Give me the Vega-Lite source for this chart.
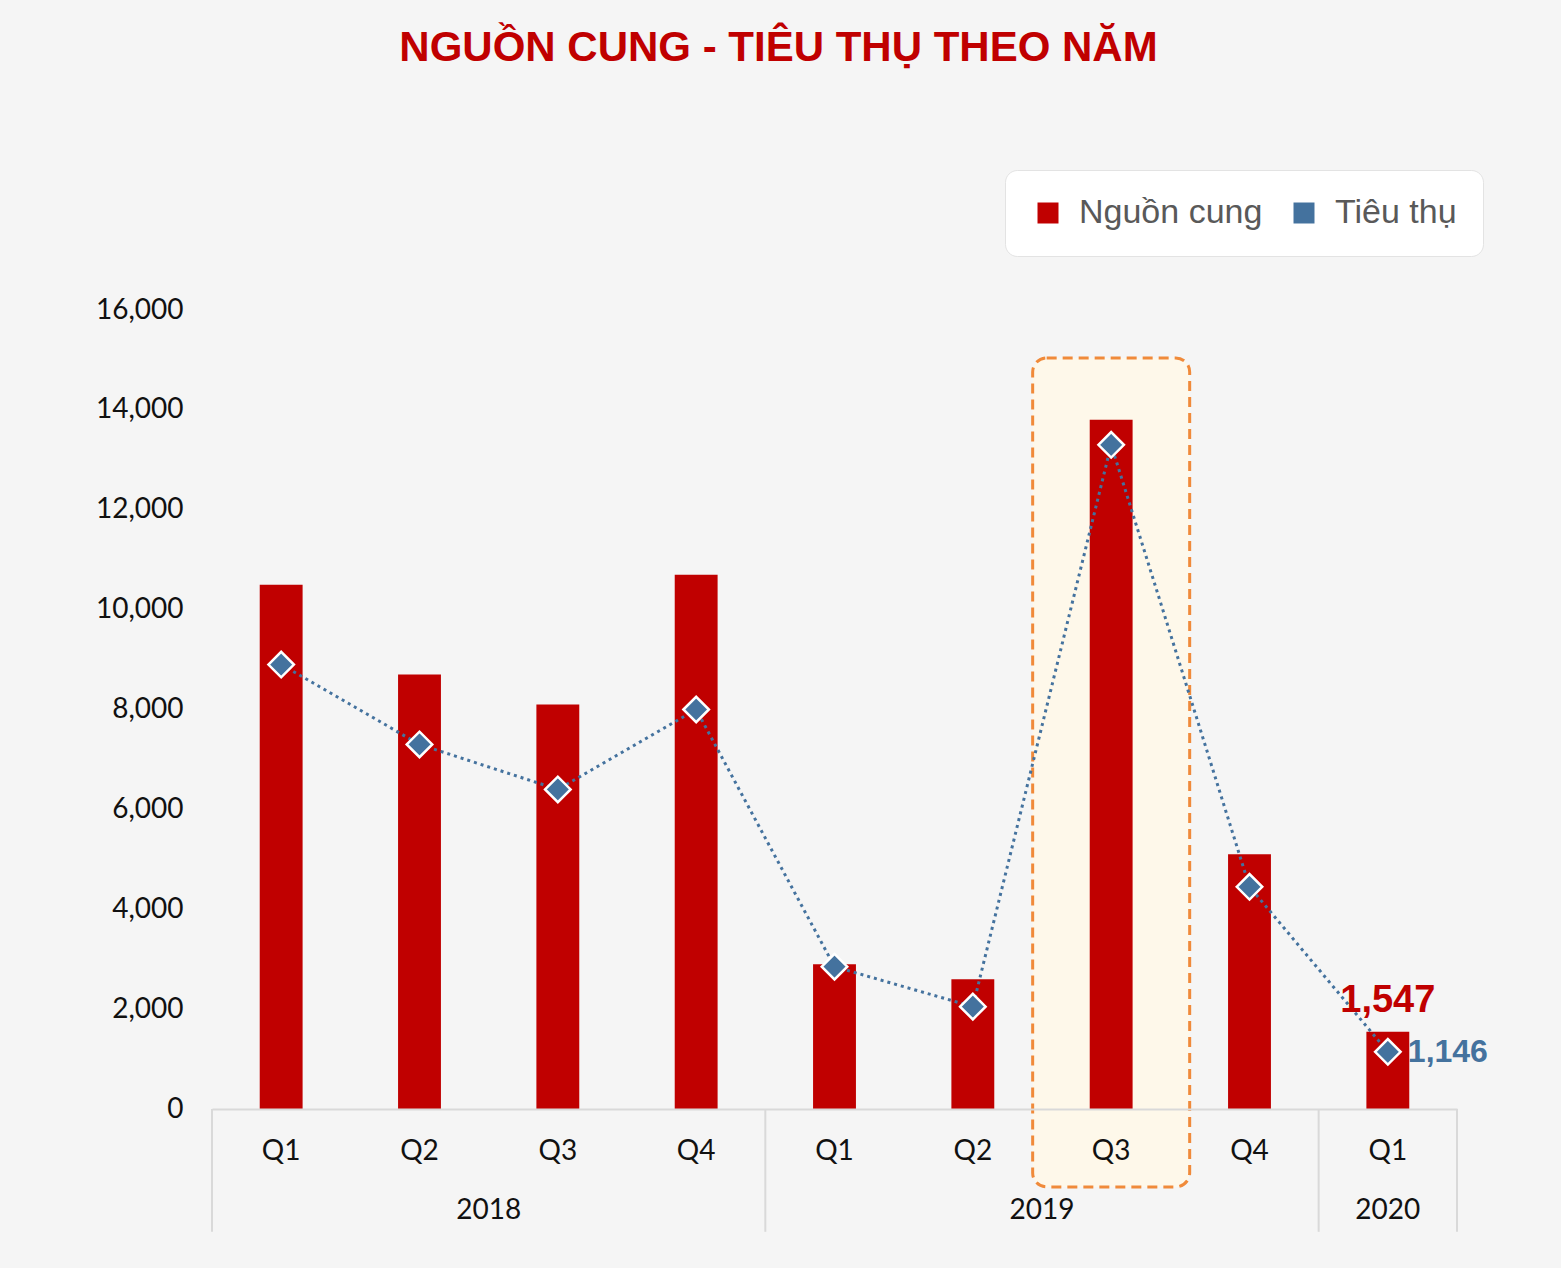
{
  "$schema": "https://vega.github.io/schema/vega-lite/v6.json",
  "autosize": {"type": "none"},
  "width": 1245,
  "height": 799,
  "padding": {"left": 212, "top": 310, "right": 104, "bottom": 159},
  "background": "#F5F5F5",
  "config": {"view": {"stroke": null}},
  "title": {
    "text": "NGUỒN CUNG - TIÊU THỤ THEO NĂM",
    "font": "'Liberation Sans Narrow', 'Liberation Sans'",
    "fontSize": 42,
    "fontWeight": "bold",
    "color": "#C00000",
    "anchor": "middle",
    "frame": "group",
    "dx": -56,
    "offset": 100
  },
  "datasets": {
    "main": [
      {"key": "2018-Q1", "supply": 10500, "demand": 8900},
      {"key": "2018-Q2", "supply": 8700, "demand": 7300},
      {"key": "2018-Q3", "supply": 8100, "demand": 6400},
      {"key": "2018-Q4", "supply": 10700, "demand": 8000},
      {"key": "2019-Q1", "supply": 2900, "demand": 2850},
      {"key": "2019-Q2", "supply": 2600, "demand": 2050},
      {"key": "2019-Q3", "supply": 13800, "demand": 13300},
      {"key": "2019-Q4", "supply": 5100, "demand": 4450},
      {"key": "2020-Q1", "supply": 1547, "demand": 1146}
    ]
  },
  "encoding": {
    "x": {
      "field": "key",
      "type": "nominal",
      "scale": {
        "domain": ["2018-Q1", "2018-Q2", "2018-Q3", "2018-Q4", "2019-Q1", "2019-Q2", "2019-Q3", "2019-Q4", "2020-Q1"],
        "paddingInner": 0,
        "paddingOuter": 0
      },
      "axis": {
        "title": null,
        "labelExpr": "substring(datum.label, 5)",
        "labelAngle": 0,
        "labelFont": "Lato",
        "labelFontSize": 28,
        "labelColor": "#111111",
        "labelPadding": 28,
        "ticks": false,
        "tickSize": 0,
        "domainColor": "#D9D9D9",
        "domainWidth": 2,
        "grid": false,
        "zindex": 1
      }
    }
  },
  "layer": [
    {
      "data": {"values": [{"key": "2019-Q3"}]},
      "mark": {
        "type": "rect",
        "width": {"band": 1.135},
        "fill": "#FEF8EA",
        "stroke": "#F08A3A",
        "strokeWidth": 3,
        "strokeDash": [10, 6],
        "cornerRadius": 14
      },
      "encoding": {
        "y": {"datum": 15040, "type": "quantitative"},
        "y2": {"datum": -1560}
      }
    },
    {
      "data": {"values": [{"key": "2018-Q1"}, {"key": "2019-Q1"}, {"key": "2020-Q1"}]},
      "mark": {"type": "rule", "color": "#D9D9D9", "strokeWidth": 2},
      "encoding": {
        "x": {"field": "key", "type": "nominal", "bandPosition": 0},
        "y": {"datum": 0, "type": "quantitative"},
        "y2": {"datum": -2460}
      }
    },
    {
      "data": {"values": [{"key": "2020-Q1"}]},
      "mark": {"type": "rule", "color": "#D9D9D9", "strokeWidth": 2},
      "encoding": {
        "x": {"field": "key", "type": "nominal", "bandPosition": 1},
        "y": {"datum": 0, "type": "quantitative"},
        "y2": {"datum": -2460}
      }
    },
    {
      "data": {"name": "main"},
      "mark": {"type": "bar", "width": {"band": 0.31}},
      "encoding": {
        "y": {
          "field": "supply",
          "type": "quantitative",
          "scale": {"domain": [0, 16000], "nice": false, "clamp": false},
          "axis": {
            "title": null,
            "values": [0, 2000, 4000, 6000, 8000, 10000, 12000, 14000, 16000],
            "format": ",d",
            "domain": false,
            "ticks": false,
            "tickSize": 0,
            "labelPadding": 29,
            "labelFont": "Lato",
            "labelFontSize": 28,
            "labelColor": "#111111",
            "gridColor": "#D9D9D9",
            "gridWidth": 2
          }
        },
        "color": {
          "datum": "Nguồn cung",
          "type": "nominal",
          "scale": {"domain": ["Nguồn cung", "Tiêu thụ"], "range": ["#C00000", "#44729E"]},
          "legend": {
            "title": null,
            "orient": "none",
            "legendX": 793,
            "legendY": -140,
            "direction": "horizontal",
            "fillColor": "#FFFFFF",
            "strokeColor": "#E3E3E3",
            "cornerRadius": 12,
            "padding": 26,
            "symbolType": "square",
            "symbolSize": 441,
            "symbolStrokeWidth": 0,
            "symbolOpacity": 1,
            "labelFont": "Liberation Sans",
            "labelFontSize": 34,
            "labelColor": "#595959",
            "labelOffset": 14,
            "labelLimit": 400,
            "columnPadding": 24
          }
        }
      }
    },
    {
      "data": {"name": "main"},
      "mark": {"type": "line", "color": "#44729E", "strokeWidth": 3, "strokeDash": [3, 4]},
      "encoding": {
        "y": {"field": "demand", "type": "quantitative"}
      }
    },
    {
      "data": {"name": "main"},
      "mark": {"type": "point", "shape": "diamond", "filled": true, "fill": "#44729E", "stroke": "#FFFFFF", "strokeWidth": 2.5, "size": 650, "opacity": 1},
      "encoding": {
        "y": {"field": "demand", "type": "quantitative"}
      }
    },
    {
      "data": {"name": "main"},
      "transform": [{"filter": "datum.key == '2020-Q1'"}],
      "mark": {"type": "text", "font": "Liberation Sans", "fontWeight": "bold", "fontSize": 38, "color": "#C00000", "baseline": "alphabetic", "dy": -20},
      "encoding": {
        "y": {"field": "supply", "type": "quantitative"},
        "text": {"field": "supply", "type": "quantitative", "format": ","}
      }
    },
    {
      "data": {"name": "main"},
      "transform": [{"filter": "datum.key == '2020-Q1'"}],
      "mark": {"type": "text", "font": "Liberation Sans", "fontWeight": "bold", "fontSize": 32, "color": "#44729E", "align": "left", "baseline": "middle", "dx": 20},
      "encoding": {
        "y": {"field": "demand", "type": "quantitative"},
        "text": {"field": "demand", "type": "quantitative", "format": ","}
      }
    },
    {
      "data": {"values": [{"key": "2018-Q3", "year": "2018"}, {"key": "2019-Q3", "year": "2019"}]},
      "mark": {"type": "text", "font": "Lato", "fontSize": 28, "color": "#111111", "baseline": "middle"},
      "encoding": {
        "x": {"field": "key", "type": "nominal", "bandPosition": 0},
        "y": {"datum": -2040, "type": "quantitative"},
        "text": {"field": "year"}
      }
    },
    {
      "data": {"values": [{"key": "2020-Q1", "year": "2020"}]},
      "mark": {"type": "text", "font": "Lato", "fontSize": 28, "color": "#111111", "baseline": "middle"},
      "encoding": {
        "x": {"field": "key", "type": "nominal", "bandPosition": 0.5},
        "y": {"datum": -2040, "type": "quantitative"},
        "text": {"field": "year"}
      }
    }
  ]
}
